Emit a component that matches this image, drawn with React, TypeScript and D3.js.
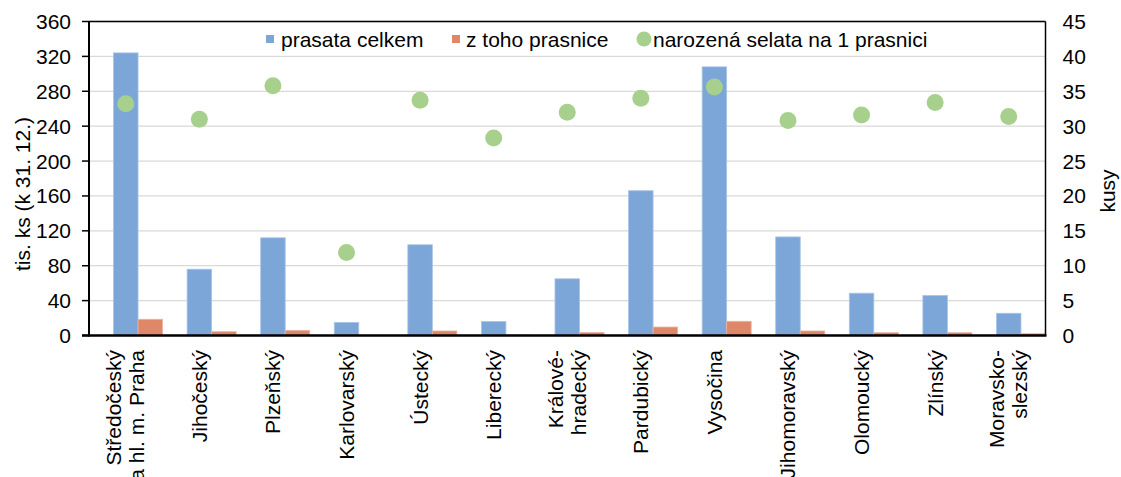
import React from "react";
import * as d3 from "d3";

const categories: string[][] = [
  ["Středočeský", "a hl. m. Praha"],
  ["Jihočeský"],
  ["Plzeňský"],
  ["Karlovarský"],
  ["Ústecký"],
  ["Liberecký"],
  ["Králové-", "hradecký"],
  ["Pardubický"],
  ["Vysočina"],
  ["Jihomoravský"],
  ["Olomoucký"],
  ["Zlínský"],
  ["Moravsko-", "slezský"],
];
const prasataCelkem = [324, 76, 112, 15, 104, 16, 65, 166, 308, 113, 48.5, 46, 25.5];
const zTohoPrasnice = [18.6, 4.4, 5.9, 0.4, 5.2, 0.5, 3.5, 9.7, 16.3, 5.2, 3.2, 3.2, 2.1];
const narozenaSelata = [33.2, 31.0, 35.8, 11.9, 33.7, 28.3, 32.0, 34.0, 35.6, 30.8, 31.6, 33.4, 31.4];
const leftTicks = [0, 40, 80, 120, 160, 200, 240, 280, 320, 360];
const rightTicks = [0, 5, 10, 15, 20, 25, 30, 35, 40, 45];
const seriesNames = ["prasata celkem", "z toho prasnice", "narozená selata na 1 prasnici"];

const W = 1121, H = 477;
const M = { left: 89, right: 1045.5, top: 21.5, bottom: 335.5 };
const BLUE = "#7ca6d8", ORANGE = "#de8769", GREEN = "#a8d08d";
const FONT = "'Liberation Sans', Arial, sans-serif";
const FS = 21;

export default function App() {
  const idx = categories.map((_, i) => i);
  const x = d3.scaleBand<number>().domain(idx).range([M.left, M.right]);
  const yL = d3.scaleLinear().domain([0, 360]).range([M.bottom, M.top]);
  const yR = d3.scaleLinear().domain([0, 45]).range([M.bottom, M.top]);
  const bw = x.bandwidth() / 3;

  return (
    <svg width={W} height={H} style={{ position: "absolute", left: 0, top: 0, background: "#fff" }} fontFamily={FONT}>
      {leftTicks.map((t) => (
        <line key={t} x1={M.left} x2={M.right} y1={yL(t)} y2={yL(t)} stroke="#d9d9d9" strokeWidth={1.3} />
      ))}
      {idx.map((i) => {
        const x0 = (x(i) as number) + bw;
        return (
          <g key={i}>
            <rect x={x0} y={yL(prasataCelkem[i])} width={bw} height={M.bottom - yL(prasataCelkem[i])} fill={BLUE} stroke="#a9c4e8" strokeWidth={0.8} />
            <rect x={x0 + bw} y={yL(zTohoPrasnice[i])} width={bw} height={M.bottom - yL(zTohoPrasnice[i])} fill={ORANGE} stroke="#eab3a1" strokeWidth={0.8} />
          </g>
        );
      })}
      {idx.map((i) => (
        <circle key={i} cx={(x(i) as number) + x.bandwidth() / 2} cy={yR(narozenaSelata[i])} r={8.5} fill={GREEN} />
      ))}
      <line x1={M.left} x2={M.right} y1={M.top} y2={M.top} stroke="#000" strokeWidth={1.5} />
      <line x1={M.right} x2={M.right} y1={M.top} y2={M.bottom} stroke="#000" strokeWidth={1.5} />
      <line x1={M.left} x2={M.left} y1={M.top} y2={M.bottom + 1} stroke="#000" strokeWidth={2} />
      <line x1={M.left - 7} x2={M.right + 1} y1={M.bottom} y2={M.bottom} stroke="#000" strokeWidth={2.5} />
      {leftTicks.map((t) => (
        <g key={t}>
          <line x1={M.left - 7} x2={M.left} y1={yL(t)} y2={yL(t)} stroke="#000" strokeWidth={1.5} />
          <text x={M.left - 18} y={yL(t)} textAnchor="end" dominantBaseline="central" fontSize={FS} fill="#000">{t}</text>
        </g>
      ))}
      {rightTicks.map((t) => (
        <text key={t} x={M.right + 17} y={yR(t)} textAnchor="start" dominantBaseline="central" fontSize={FS} fill="#000">{t}</text>
      ))}
      <text transform={`translate(22,194) rotate(-90)`} textAnchor="middle" dominantBaseline="central" fontSize={FS}>tis. ks (k 31. 12.)</text>
      <text transform={`translate(1107,191) rotate(-90)`} textAnchor="middle" dominantBaseline="central" fontSize={FS}>kusy</text>
      {idx.map((i) => {
        const cx = (x(i) as number) + x.bandwidth() / 2;
        const lines = categories[i];
        const off = lines.length === 1 ? [0] : [-12, 11];
        return (
          <text key={i} transform={`translate(${cx},350) rotate(-90)`} textAnchor="end" fontSize={FS}>
            {lines.map((l, j) => (
              <tspan key={j} x={0} y={off[j]} dominantBaseline="central">{l}</tspan>
            ))}
          </text>
        );
      })}
      <rect x={258} y={24} width={684} height={29} fill="#fff" />
      <rect x={266} y={35} width={8} height={8} fill={BLUE} />
      <text x={281} y={39} dominantBaseline="central" fontSize={FS}>{seriesNames[0]}</text>
      <rect x={452} y={35} width={8} height={8} fill={ORANGE} />
      <text x={466} y={39} dominantBaseline="central" fontSize={FS}>{seriesNames[1]}</text>
      <circle cx={644} cy={39} r={7.5} fill={GREEN} />
      <text x={653} y={39} dominantBaseline="central" fontSize={FS}>{seriesNames[2]}</text>
    </svg>
  );
}
